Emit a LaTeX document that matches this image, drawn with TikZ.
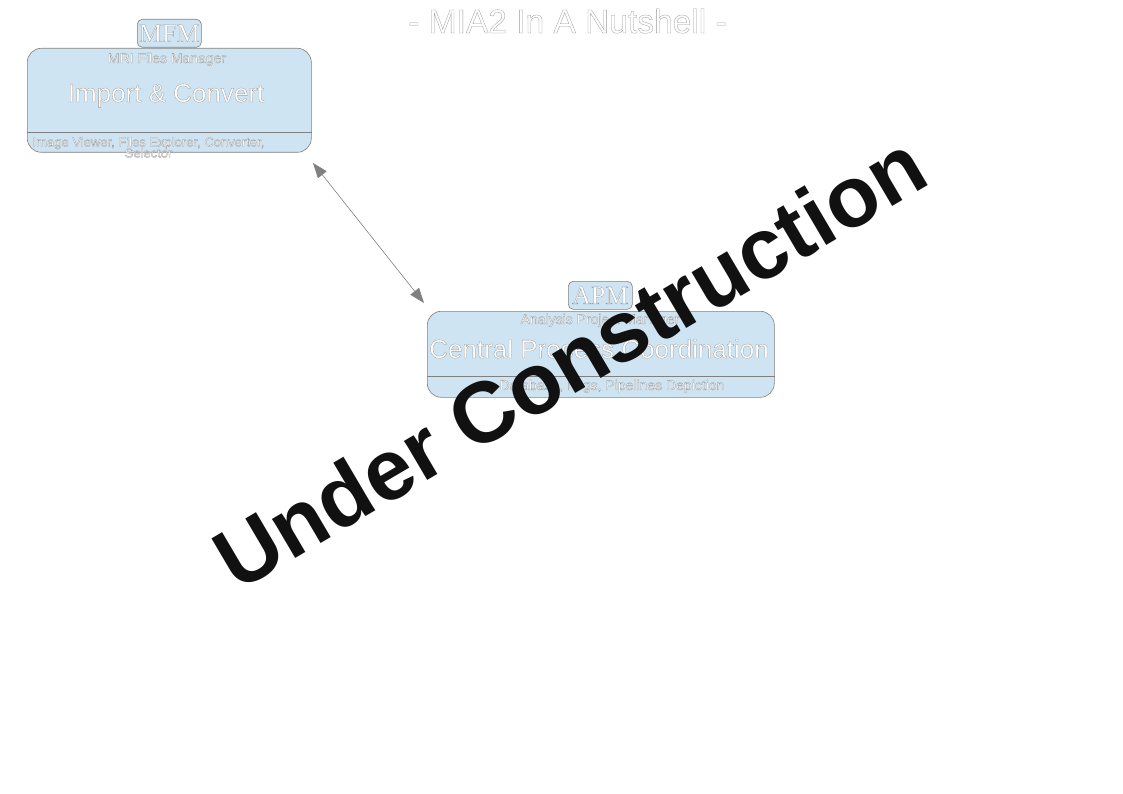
\documentclass[tikz,border=0pt]{standalone}
\usepackage{fontspec}
\setmainfont{Liberation Sans}
\newfontfamily\serifx{Liberation Serif}
\usetikzlibrary{arrows.meta}
\definecolor{boxblue}{RGB}{207,228,242}
\definecolor{boxgray}{RGB}{128,128,128}
\definecolor{ucblack}{RGB}{17,17,17}
\newcommand{\outl}[1]{\special{pdf:literal direct 2 Tr 0.3 w 0.6 0.6 0.6 RG}#1\special{pdf:literal direct 0 Tr}}
\tikzset{
  mainbox/.style={draw=boxgray, fill=boxblue, rounded corners=14pt, line width=0.6pt, inner sep=0pt, anchor=north west},
  tabbox/.style={draw=boxgray, fill=boxblue, rounded corners=5pt, line width=0.6pt, inner sep=0pt, anchor=north west},
  divider/.style={draw=boxgray, line width=0.6pt},
  otext/.style={text=white, inner sep=0pt},
  conn/.style={draw=boxgray, line width=0.6pt, {Triangle[length=15pt,width=11pt]}-{Triangle[length=15pt,width=11pt]}},
  ucstyle/.style={text=ucblack, inner sep=0pt, font=\bfseries\fontsize{86}{94}\selectfont}
}
\begin{document}
\begin{tikzpicture}[x=1pt,y=-1pt]
\useasboundingbox (0,0) rectangle (1123,794);
\fill[white] (0,0) rectangle (1123,794);

% title
\node[otext, font=\fontsize{33.5}{40}\selectfont, anchor=base] (title) at (567.5,33) {\outl{- MIA2 In A Nutshell -}};

% MFM
\node[mainbox, minimum width=284pt, minimum height=104pt] (mfmbox) at (27,48) {};
\node[tabbox, minimum width=64pt, minimum height=28pt] (mfmtab) at (137,19) {};
\draw[divider] (mfmbox.west |- 0,132) -- (mfmbox.east |- 0,132);
\node[otext, font=\serifx\fontsize{26}{30}\selectfont] (mfmlabel) at (mfmtab.center) {\outl{MFM}};
\node[otext, font=\fontsize{14}{16}\selectfont, anchor=base] (mfmsub) at (167,63) {\outl{MRI Files Manager}};
\node[otext, font=\fontsize{26}{30}\selectfont, anchor=base] (mfmmain) at (166,102) {\outl{Import \& Convert}};
\node[otext, font=\fontsize{13}{15}\selectfont, anchor=base] (mfmfoot) at (148.5,146.5) {\outl{Image Viewer, Files Explorer, Converter,}};
\node[otext, font=\fontsize{13}{15}\selectfont, anchor=base] (mfmfoottwo) at (148.5,157.5) {\outl{Selector}};

% APM
\node[mainbox, minimum width=347pt, minimum height=86pt] (apmbox) at (427,311) {};
\node[tabbox, minimum width=64pt, minimum height=28pt] (apmtab) at (568,281) {};
\draw[divider] (apmbox.west |- 0,376) -- (apmbox.east |- 0,376);
\node[otext, font=\serifx\fontsize{26}{30}\selectfont] (apmlabel) at (apmtab.center) {\outl{APM}};
\node[otext, font=\fontsize{14}{16}\selectfont, anchor=base] (apmsub) at (600,324) {\outl{Analysis Project Manager}};
\node[otext, font=\fontsize{26}{30}\selectfont, anchor=base] (apmmain) at (599,358) {\outl{Central Process Coordination}};
\node[otext, font=\fontsize{14}{16}\selectfont, anchor=base] (apmfoot) at (612,390) {\outl{Database, Logs, Pipelines Depiction}};

% connector
\coordinate (c1) at (313,163);
\coordinate (c2) at (424,303);
\draw[conn] (c1) -- (c2);

% stamp
\node[ucstyle, rotate=30.5, anchor=base] (uc) at (585,388) {Under Construction};
\end{tikzpicture}
\end{document}
